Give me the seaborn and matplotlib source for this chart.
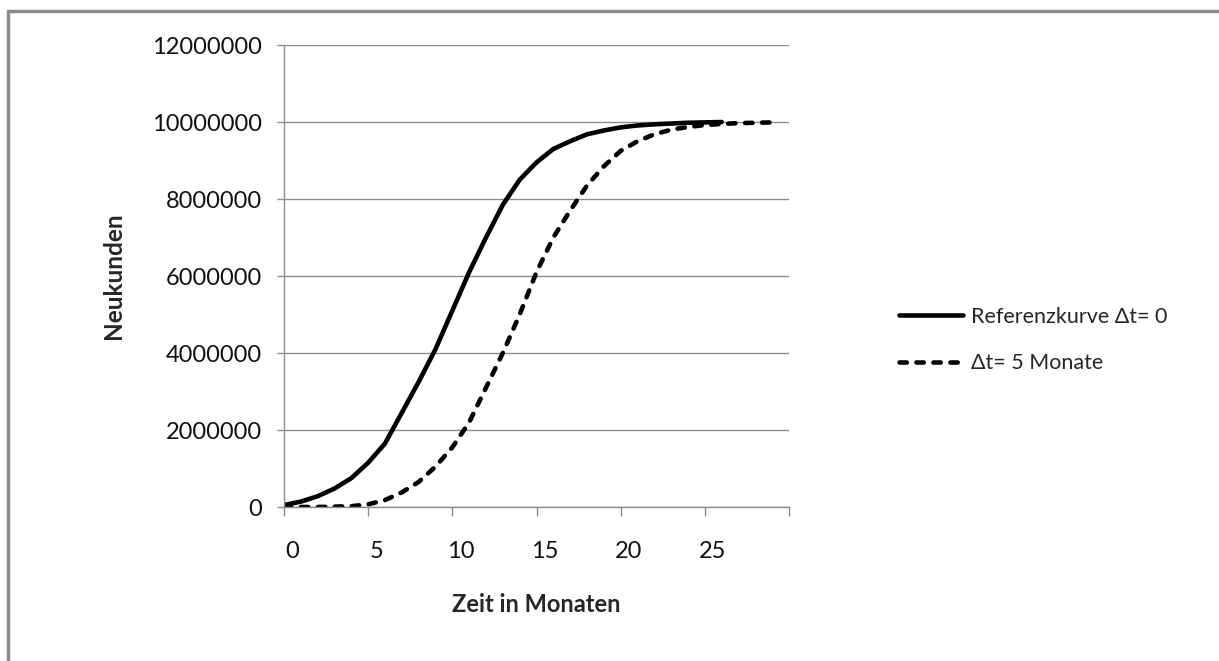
import matplotlib
matplotlib.use("Agg")
import matplotlib.pyplot as plt
import matplotlib.transforms as mtransforms
from matplotlib.lines import Line2D
import seaborn as sns
import pandas as pd

# Monate und Neukunden (Mio.)
t_ref = list(range(0, 27))
ref = [0.05, 0.14, 0.28, 0.48, 0.75, 1.15, 1.65, 2.45, 3.25, 4.1, 5.1, 6.1, 7.0,
       7.85, 8.5, 8.95, 9.3, 9.5, 9.68, 9.78, 9.86, 9.91, 9.94, 9.96, 9.98, 9.99, 10.0]

t_shift = list(range(0, 30))
shift = [0.0, 0.0, 0.0, 0.01, 0.02, 0.07, 0.18, 0.38, 0.65, 1.05, 1.55, 2.2, 3.1,
         4.0, 5.0, 6.1, 7.0, 7.7, 8.35, 8.85, 9.25, 9.5, 9.68, 9.8, 9.87, 9.92,
         9.95, 9.97, 9.98, 9.99]

label_ref = "Referenzkurve \u0394t= 0"
label_shift = "\u0394t= 5 Monate"

df = pd.concat([
    pd.DataFrame({"t": t_ref, "n": [v * 1e6 for v in ref], "Kurve": label_ref}),
    pd.DataFrame({"t": t_shift, "n": [v * 1e6 for v in shift], "Kurve": label_shift}),
])

sns.set_style("white")
plt.rcParams["font.family"] = ["Lato", "DejaVu Sans"]

LW = 3.3
DASH = (1.6, 2.1)

fig = plt.figure(figsize=(12.19, 6.61), dpi=100)
ax = fig.add_axes([284 / 1219, 1 - 507 / 661, (789 - 284) / 1219, (507 - 45) / 661])

sns.lineplot(data=df, x="t", y="n", hue="Kurve", style="Kurve",
             palette=["black", "black"], dashes=[(None, None), DASH],
             linewidth=LW, ax=ax, legend=False)
for ln in ax.get_lines():
    ln.set_dash_capstyle("round")
    ln.set_solid_capstyle("round")

ax.set_xlim(0, 30)
ax.set_ylim(0, 12000000)
ax.set_xticks(range(0, 31, 5))
ax.set_xticklabels(["0", "5", "10", "15", "20", "25", ""])
ax.set_yticks(range(0, 12000001, 2000000))
ax.set_yticklabels([str(v) for v in range(0, 12000001, 2000000)])
ax.grid(axis="y", color="#8c8c8c", linewidth=1)
ax.set_axisbelow(True)
for s in ["top", "right"]:
    ax.spines[s].set_visible(False)
for s in ["left", "bottom"]:
    ax.spines[s].set_color("#8c8c8c")
    ax.spines[s].set_linewidth(1)
ax.tick_params(axis="both", direction="out", width=1, color="#8c8c8c",
               labelsize=17, labelcolor="#111111", left=True, bottom=True)
ax.tick_params(axis="y", length=5, pad=11)
ax.tick_params(axis="x", length=6.5, pad=18)

# Excel setzt die x-Beschriftung leicht nach rechts
off = mtransforms.ScaledTranslation(8 / 100, 0, fig.dpi_scale_trans)
for lab in ax.get_xticklabels():
    lab.set_transform(lab.get_transform() + off)

ax.set_xlabel("Zeit in Monaten", fontsize=17, fontweight="bold", labelpad=22)
ax.set_ylabel("Neukunden", fontsize=17.5, fontweight="bold", labelpad=19)

handles = [Line2D([], [], color="black", linewidth=LW, solid_capstyle="round"),
           Line2D([], [], color="black", linewidth=LW, linestyle=(0, DASH),
                  dash_capstyle="round")]
fig.legend(handles, [label_ref, label_shift], loc="center left",
           bbox_to_anchor=(888 / 1219, 1 - 340 / 661), frameon=False,
           fontsize=15.5, handlelength=3.0, handletextpad=0.35, labelspacing=1.25,
           borderpad=0)

# Rahmen
fig.add_artist(Line2D([8 / 1219, 8 / 1219], [0, 1 - 11 / 661], color="#8c8c8c", linewidth=2.5))
fig.add_artist(Line2D([8 / 1219, 1], [1 - 11 / 661, 1 - 11 / 661], color="#8c8c8c", linewidth=2.5))

fig.savefig("out.png", dpi=100)
